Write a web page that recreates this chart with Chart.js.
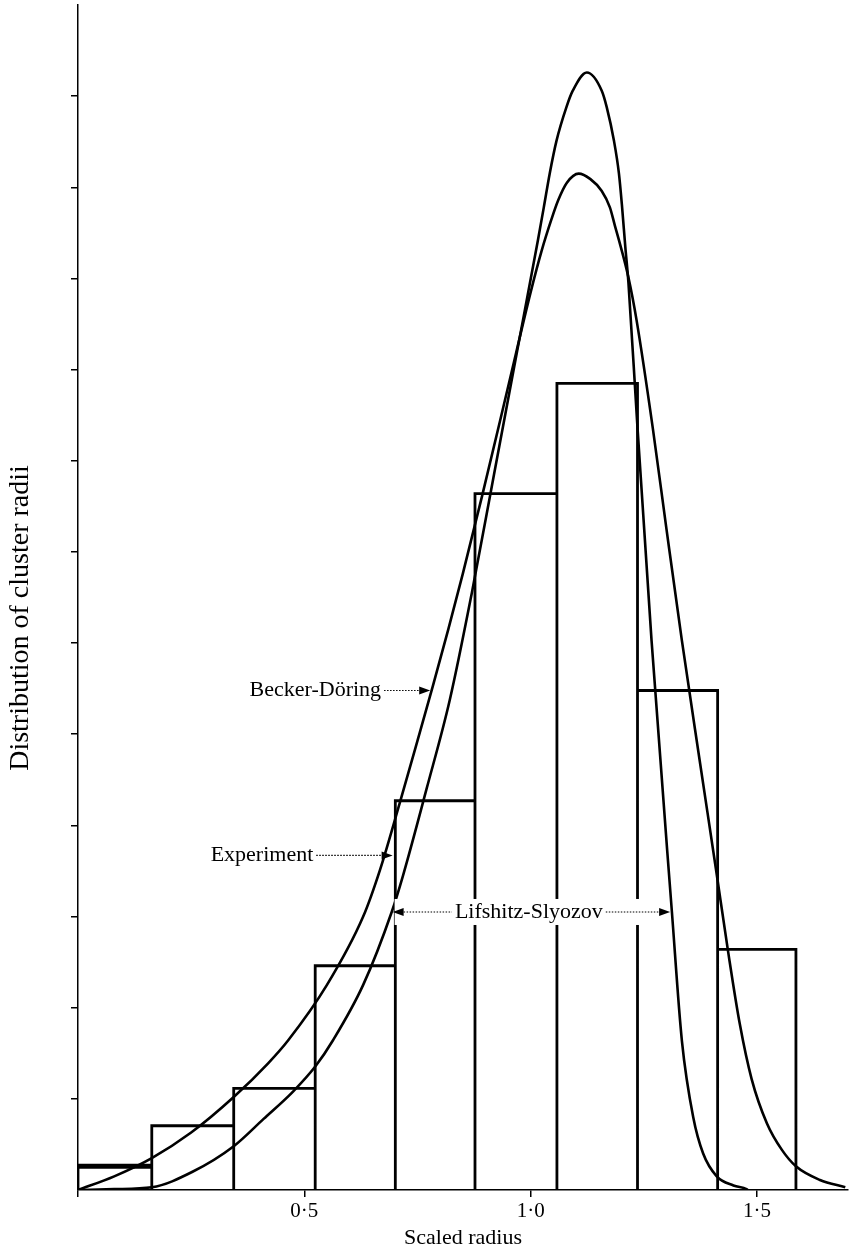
<!DOCTYPE html>
<html>
<head>
<meta charset="utf-8">
<title>Distribution of cluster radii</title>
<script src="https://cdn.jsdelivr.net/npm/chart.js@4.4.1/dist/chart.umd.min.js"></script>
<style>
  html, body { margin: 0; padding: 0; background: #ffffff; }
  #wrap { width: 850px; height: 1252px; position: relative; }
</style>
</head>
<body>
<div id="wrap"><canvas id="chart" width="850" height="1252"></canvas></div>
<script>
// Experimental histogram: bin edges (scaled radius) and bar heights
const binEdges = [0, 0.163, 0.344, 0.524, 0.701, 0.877, 1.058, 1.236, 1.413, 1.586];
const experimentHeights = [0.26, 0.705, 1.115, 2.46, 4.27, 7.64, 8.85, 5.48, 2.64];

// Becker-Döring theoretical distribution
const beckerDoringX = [0.000, 0.080, 0.163, 0.250, 0.344, 0.420, 0.464, 0.550, 0.630, 0.667, 0.711, 0.750, 0.784, 0.818, 0.850, 0.893, 0.952, 1.000, 1.024, 1.046, 1.061, 1.080, 1.106, 1.132, 1.157, 1.175, 1.186, 1.195, 1.216, 1.234, 1.270, 1.300, 1.334, 1.374, 1.409, 1.436, 1.462, 1.488, 1.522, 1.555, 1.586, 1.639, 1.695];
const beckerDoringY = [0.00, 0.15, 0.35, 0.63, 1.02, 1.39, 1.64, 2.25, 3.00, 3.51, 4.25, 4.93, 5.53, 6.15, 6.76, 7.62, 8.85, 9.85, 10.30, 10.65, 10.86, 11.05, 11.15, 11.09, 10.96, 10.78, 10.58, 10.42, 10.01, 9.54, 8.35, 7.25, 6.03, 4.69, 3.53, 2.62, 1.82, 1.22, 0.73, 0.44, 0.26, 0.11, 0.03];

// Lifshitz-Slyozov theoretical distribution
const lifshitzSlyozovX = [0.000, 0.080, 0.163, 0.253, 0.344, 0.410, 0.475, 0.525, 0.563, 0.630, 0.693, 0.718, 0.770, 0.821, 0.870, 0.919, 0.970, 1.016, 1.029, 1.042, 1.057, 1.079, 1.093, 1.124, 1.157, 1.168, 1.184, 1.195, 1.202, 1.209, 1.216, 1.235, 1.267, 1.312, 1.334, 1.359, 1.381, 1.411, 1.448, 1.477, 1.480];
const lifshitzSlyozovY = [0.00, 0.01, 0.03, 0.20, 0.48, 0.78, 1.08, 1.36, 1.64, 2.25, 3.05, 3.45, 4.40, 5.37, 6.55, 7.85, 9.20, 10.42, 10.78, 11.15, 11.51, 11.88, 12.06, 12.26, 12.06, 11.88, 11.51, 11.15, 10.78, 10.35, 9.95, 8.44, 6.03, 3.05, 1.64, 0.80, 0.40, 0.15, 0.05, 0.01, 0.00];

// Axis ticks
const xTickValues = [0, 0.5, 1.0, 1.5];
const yTickValues = [1, 2, 3, 4, 5, 6, 7, 8, 9, 10, 11, 12];

const FONT = "'Liberation Serif', 'DejaVu Serif', 'Times New Roman', serif";

// Outline of the histogram: every bar drawn with both verticals down to the baseline
function histogramOutline(edges, heights) {
  const pts = [{ x: edges[0], y: 0 }];
  heights.forEach((h, i) => {
    pts.push({ x: edges[i], y: h });
    pts.push({ x: edges[i + 1], y: h });
    pts.push({ x: edges[i + 1], y: 0 });
  });
  return pts;
}
const zip = (xs, ys) => xs.map((x, i) => ({ x, y: ys[i] }));

// Text labels with arrows, anchored in data coordinates
const annotations = {
  beckerDoring: { text: 'Becker-Döring', textX: 0.379, tipX: 0.778, y: 5.48 },
  experiment:   { text: 'Experiment',    textX: 0.293, tipX: 0.695, y: 3.67 },
  lifshitz:     { text: 'Lifshitz-Slyozov', leftTip: 0.695, rightTip: 1.308, centerX: 0.996, y: 3.05 }
};

function dottedLine(ctx, x1, x2, y) {
  ctx.save();
  ctx.setLineDash([1.5, 1.5]);
  ctx.lineWidth = 1.2;
  ctx.beginPath();
  ctx.moveTo(x1, y);
  ctx.lineTo(x2, y);
  ctx.stroke();
  ctx.restore();
}
function arrowHead(ctx, tipX, y, dir) {
  const len = 11, half = 4;
  ctx.beginPath();
  ctx.moveTo(tipX, y);
  ctx.lineTo(tipX - dir * len, y - half);
  ctx.lineTo(tipX - dir * len, y + half);
  ctx.closePath();
  ctx.fill();
}

const labelPlugin = {
  id: 'curveLabels',
  afterDatasetsDraw(chart) {
    const { ctx, scales: { x, y } } = chart;
    ctx.save();
    ctx.fillStyle = '#000';
    ctx.strokeStyle = '#000';
    ctx.font = `22px ${FONT}`;
    ctx.textBaseline = 'middle';

    // Becker-Döring and Experiment: text followed by a dotted arrow
    [annotations.beckerDoring, annotations.experiment].forEach(a => {
      const py = y.getPixelForValue(a.y);
      const tx = x.getPixelForValue(a.textX);
      const tip = x.getPixelForValue(a.tipX);
      ctx.textAlign = 'left';
      ctx.fillText(a.text, tx, py);
      const w = ctx.measureText(a.text).width;
      dottedLine(ctx, tx + w + 3, tip - 8, py);
      arrowHead(ctx, tip, py, 1);
    });

    // Lifshitz-Slyozov: double arrow spanning the curve width
    const L = annotations.lifshitz;
    const py = y.getPixelForValue(L.y);
    const lx = x.getPixelForValue(L.leftTip);
    const rx = x.getPixelForValue(L.rightTip);
    const cx = x.getPixelForValue(L.centerX);
    const w = ctx.measureText(L.text).width;
    ctx.fillStyle = '#fff';
    ctx.fillRect(lx + 2, py - 13, rx - lx - 4, 26);
    ctx.fillStyle = '#000';
    ctx.textAlign = 'center';
    ctx.fillText(L.text, cx, py);
    dottedLine(ctx, lx + 8, cx - w / 2 - 3, py);
    dottedLine(ctx, cx + w / 2 + 3, rx - 8, py);
    arrowHead(ctx, lx, py, -1);
    arrowHead(ctx, rx, py, 1);

    // Axis titles
    ctx.textAlign = 'center';
    ctx.fillText('Scaled radius', (chart.chartArea.left + chart.chartArea.right) / 2, 1238);
    ctx.font = `28px ${FONT}`;
    ctx.textBaseline = 'alphabetic';
    ctx.translate(28, 618);
    ctx.rotate(-Math.PI / 2);
    ctx.fillText('Distribution of cluster radii', 0, 0);
    ctx.restore();
  }
};

new Chart(document.getElementById('chart'), {
  type: 'line',
  data: {
    datasets: [
      {
        label: 'Experiment',
        data: histogramOutline(binEdges, experimentHeights),
        borderColor: '#000',
        borderWidth: 2.8,
        pointRadius: 0,
        tension: 0,
        fill: false,
        segment: { borderWidth: c => (c.p0DataIndex === 1 ? 5 : 2.8) }
      },
      {
        label: 'Becker-Döring',
        data: zip(beckerDoringX, beckerDoringY),
        borderColor: '#000',
        borderWidth: 2.6,
        pointRadius: 0,
        cubicInterpolationMode: 'monotone',
        fill: false
      },
      {
        label: 'Lifshitz-Slyozov',
        data: zip(lifshitzSlyozovX, lifshitzSlyozovY),
        borderColor: '#000',
        borderWidth: 2.6,
        pointRadius: 0,
        cubicInterpolationMode: 'monotone',
        fill: false
      }
    ]
  },
  options: {
    responsive: false,
    animation: false,
    events: [],
    layout: { padding: { top: 5, right: 2, left: 0, bottom: 0 } },
    plugins: { legend: { display: false }, tooltip: { enabled: false } },
    scales: {
      x: {
        type: 'linear',
        min: 0,
        max: 1.701,
        afterFit: s => { s.height = 62; },
        afterBuildTicks: s => { s.ticks = xTickValues.map(v => ({ value: v })); },
        grid: { drawOnChartArea: false, drawTicks: true, tickLength: 7, color: '#000', lineWidth: 1.5 },
        border: { display: true, color: '#000', width: 1.5 },
        ticks: {
          autoSkip: false,
          maxRotation: 0,
          padding: 2,
          color: '#000',
          font: { family: FONT, size: 21 },
          callback: v => (v === 0 ? '' : v.toFixed(1).replace('.', '·'))
        }
      },
      y: {
        type: 'linear',
        min: 0,
        max: 13,
        afterFit: s => { s.width = 78; },
        afterBuildTicks: s => { s.ticks = yTickValues.map(v => ({ value: v })); },
        grid: { drawOnChartArea: false, drawTicks: true, tickLength: 7, color: '#000', lineWidth: 1.5 },
        border: { display: true, color: '#000', width: 1.5 },
        ticks: { display: false }
      }
    }
  },
  plugins: [labelPlugin]
});
</script>
</body>
</html>
